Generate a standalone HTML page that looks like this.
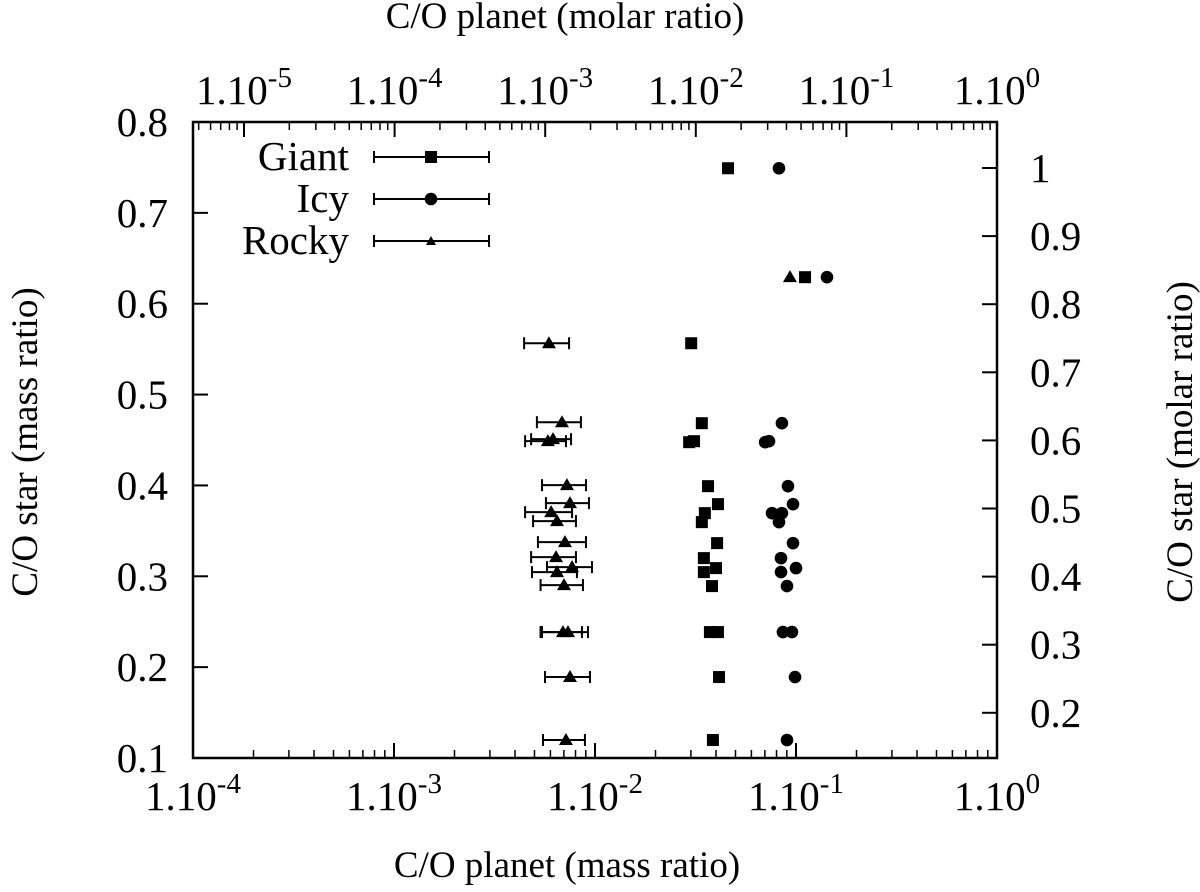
<!DOCTYPE html>
<html><head><meta charset="utf-8"><style>
html,body{margin:0;padding:0;background:#fff;}
svg{display:block;font-family:"Liberation Serif",serif;}
</style></head><body>
<svg id="chart" width="1200" height="892" viewBox="0 0 1200 892" xmlns="http://www.w3.org/2000/svg">
<g id="axes"></g><g id="marks"></g><g id="legend"></g>
<text x="565" y="28" font-size="37" text-anchor="middle">C/O planet (molar ratio)</text>
<text x="567" y="877" font-size="37" text-anchor="middle">C/O planet (mass ratio)</text>
<text transform="translate(37,442) rotate(-90)" font-size="37" text-anchor="middle">C/O star (mass ratio)</text>
<text transform="translate(1192,442) rotate(-90)" font-size="37" text-anchor="middle">C/O star (molar ratio)</text>
</svg>
<script>
const giantX=[0.0301,0.0340,0.0294,0.0311,0.0365,0.0409,0.0352,0.0340,0.0405,0.0348,0.0400,0.0348,0.0382,0.0373,0.0409,0.0414,0.0386,0.1109,0.0459];
const giantY=[0.5565,0.4685,0.4476,0.4487,0.3992,0.3794,0.3695,0.3596,0.3365,0.3200,0.3090,0.3046,0.2892,0.2386,0.2386,0.1891,0.1198,0.6292,0.7491];
const icyX=[0.0851,0.0702,0.0734,0.0912,0.0966,0.0760,0.0851,0.0823,0.0966,0.0842,0.1000,0.0842,0.0902,0.0861,0.0955,0.0989,0.0902,0.1426,0.0823];
const icyY=[0.4685,0.4476,0.4487,0.3992,0.3794,0.3695,0.3695,0.3596,0.3365,0.3200,0.3090,0.3046,0.2892,0.2386,0.2386,0.1891,0.1198,0.6292,0.7491];
const rockyX=[0.00590,0.00685,0.00583,0.00618,0.00725,0.00751,0.00605,0.00647,0.00709,0.00640,0.00769,0.00647,0.00701,0.00693,0.00734,0.00751,0.00717,0.0933];
const rockyY=[0.5565,0.4696,0.4487,0.4509,0.4003,0.3805,0.3706,0.3607,0.3376,0.3211,0.3101,0.3046,0.2903,0.2386,0.2386,0.1891,0.1198,0.6292];
const rockyLo=[0.00444,0.00514,0.00449,0.00481,0.00545,0.00570,0.00449,0.00492,0.00520,0.00481,0.00577,0.00486,0.00536,0.00536,0.00545,0.00564,0.00551,null];
const rockyHi=[0.00743,0.00851,0.00717,0.00760,0.00902,0.00933,0.00769,0.00804,0.00902,0.00804,0.00966,0.00813,0.00871,0.00861,0.00923,0.00944,0.00891,null];
const bottomTicks=[-4,-3,-2,-1,0];
const topTicks=[-5,-4,-3,-2,-1,0];
const leftTicks=[0.1,0.2,0.3,0.4,0.5,0.6,0.7,0.8];
const rightTicks=[0.2,0.3,0.4,0.5,0.6,0.7,0.8,0.9,1];
const rightLabels=["0.2","0.3","0.4","0.5","0.6","0.7","0.8","0.9","1"];

const NS="http://www.w3.org/2000/svg";
const L=193,R=997,T=122,B=758;
const sx=v=>L+(Math.log10(v)+4)*(R-L)/4;
const sxTop=e=>997-(0-e)*150.6;
const sy=v=>B-(v-0.1)*(B-T)/0.7;
const syR=v=>168-(v-1)*681;
function el(tag,attrs,parent){const e=document.createElementNS(NS,tag);for(const k in attrs)e.setAttribute(k,attrs[k]);parent.appendChild(e);return e;}
const axes=document.getElementById('axes'),marks=document.getElementById('marks'),leg=document.getElementById('legend');
const frame=el('rect',{x:L,y:T,width:R-L,height:B-T,fill:'none',stroke:'#000','stroke-width':2.5},axes);


for(let d=-4;d<0;d++){for(let m=2;m<10;m++){const x=sx(m*Math.pow(10,d));
el('line',{x1:x,y1:B,x2:x,y2:B-8,stroke:'#000','stroke-width':1.5},axes);}}
bottomTicks.forEach(e=>{const x=sx(Math.pow(10,e));
el('line',{x1:x,y1:B,x2:x,y2:B-15,stroke:'#000','stroke-width':2},axes);
const t=el('text',{x:x,y:810,'font-size':41,'text-anchor':'middle'},axes);


t.innerHTML='1.10<tspan dy="-17" font-size="29">'+e+'</tspan>';});
for(let d=-6;d<0;d++){for(let m=2;m<10;m++){const x=sxTop(d+Math.log10(m));
if(x>L+2)el('line',{x1:x,y1:T,x2:x,y2:T+8,stroke:'#000','stroke-width':1.5},axes);}}
topTicks.forEach(e=>{const x=sxTop(e);
el('line',{x1:x,y1:T,x2:x,y2:T+15,stroke:'#000','stroke-width':2},axes);
const t=el('text',{x:x,y:104,'font-size':41,'text-anchor':'middle'},axes);


t.innerHTML='1.10<tspan dy="-17" font-size="29">'+e+'</tspan>';});
leftTicks.forEach(v=>{const y=sy(v);
el('line',{x1:L,y1:y,x2:L+15,y2:y,stroke:'#000','stroke-width':2},axes);
const t=el('text',{x:168,y:y+14,'font-size':41,'text-anchor':'end'},axes);


t.textContent=v.toFixed(1);});
rightTicks.forEach((v,i)=>{const y=syR(v);
el('line',{x1:R,y1:y,x2:R-15,y2:y,stroke:'#000','stroke-width':2},axes);
const t=el('text',{x:1030,y:y+14,'font-size':41,'text-anchor':'start'},axes);


t.textContent=rightLabels[i];});
function square(x,y,p,name){const e=el('rect',{x:x-6,y:y-6,width:12,height:12,fill:'#000'},p);}
function circle(x,y,p,name){const e=el('circle',{cx:x,cy:y,r:6.3,fill:'#000'},p);}
function tri(x,y,p,name){const e=el('polygon',{points:`${x},${y-7} ${x-7},${y+5} ${x+7},${y+5}`,fill:'#000'},p);}
function ebar(x1,x2,y,p){el('line',{x1:x1,y1:y,x2:x2,y2:y,stroke:'#000','stroke-width':2},p);
el('line',{x1:x1,y1:y-6,x2:x1,y2:y+6,stroke:'#000','stroke-width':2},p);
el('line',{x1:x2,y1:y-6,x2:x2,y2:y+6,stroke:'#000','stroke-width':2},p);}
rockyX.forEach((v,i)=>{const x=sx(v),y=sy(rockyY[i]);
if(rockyLo[i]!==null)ebar(sx(rockyLo[i]),sx(rockyHi[i]),y,marks);
tri(x,y,marks,'rocky-point');});
giantX.forEach((v,i)=>square(sx(v),sy(giantY[i]),marks,'giant-point'));
icyX.forEach((v,i)=>circle(sx(v),sy(icyY[i]),marks,'icy-point'));
const legNames=['Giant','Icy','Rocky'];const legY=[157,199,241];
legNames.forEach((n,i)=>{const y=legY[i];
const t=el('text',{x:349,y:y+13,'font-size':41,'text-anchor':'end'},leg);


t.textContent=n;
ebar(374,489,y,leg);
if(i==0)square(431,y,leg,'legend-giant-marker');else if(i==1)circle(431,y,leg,'legend-icy-marker');else{const e=el('polygon',{points:`431,${y-5} 426,${y+4} 436,${y+4}`,fill:'#000'},leg);}
});
</script>
</body></html>
